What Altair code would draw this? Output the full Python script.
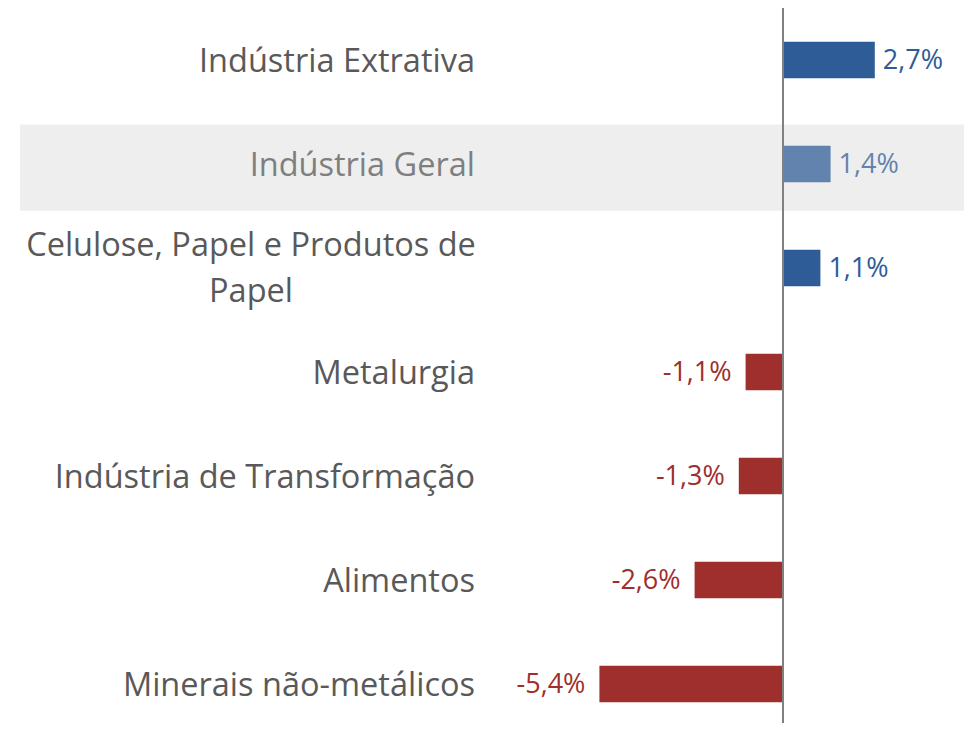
import altair as alt
import pandas as pd

categories = [
    "Indústria Extrativa",
    "Indústria Geral",
    "Celulose, Papel e Produtos de Papel",
    "Metalurgia",
    "Indústria de Transformação",
    "Alimentos",
    "Minerais não-metálicos",
]
values = [2.7, 1.4, 1.1, -1.1, -1.3, -2.6, -5.4]
highlight = "Indústria Geral"
wrapped = {"Celulose, Papel e Produtos de Papel": "Celulose, Papel e Produtos de\nPapel"}

df = pd.DataFrame({"cat": categories, "value": values, "idx": list(range(len(categories)))})
df["label"] = [f"{v:.1f}".replace(".", ",") + "%" for v in values]
df["group"] = ["geral" if c == highlight else ("pos" if v >= 0 else "neg") for c, v in zip(categories, values)]
df["wrap"] = [c in wrapped for c in categories]
df["disp"] = [wrapped.get(c, c) for c in categories]

FONT = "Open Sans"
W, H = 956, 715
xscale = alt.Scale(domain=[-775 / 34, 181 / 34], nice=False, zero=False)
yscale = alt.Scale(domain=[-0.5, 6.375], nice=False, zero=False, reverse=True)
bar_colors = alt.Scale(domain=["pos", "geral", "neg"], range=["#2E5C97", "#6283AD", "#9E2F2D"])
lab_colors = alt.Scale(domain=["pos", "geral", "neg"], range=["#595959", "#7F7F7F", "#595959"])

base = alt.Chart(df)

band = base.transform_filter(alt.datum.cat == highlight).transform_calculate(
    y0="datum.idx - 0.38", y1="datum.idx + 0.45"
).mark_rect(color="#EEEEEE").encode(
    x=alt.value(12), x2=alt.value(W),
    y=alt.Y("y0:Q", scale=yscale, axis=None), y2="y1:Q",
)

bars = base.transform_calculate(
    y0="datum.idx - 0.175", y1="datum.idx + 0.175", zero="0"
).mark_rect().encode(
    x=alt.X("value:Q", scale=xscale, axis=None), x2="zero:Q",
    y=alt.Y("y0:Q", scale=yscale, axis=None), y2="y1:Q",
    color=alt.Color("group:N", scale=bar_colors, legend=None),
)

zero_line = base.transform_filter(alt.datum.idx == 0).transform_calculate(zero="0").mark_rule(
    color="#808080", strokeWidth=2
).encode(
    x=alt.X("zero:Q", scale=xscale, axis=None),
    y=alt.value(0), y2=alt.value(H),
)

pos_lab = base.transform_filter(alt.datum.value >= 0).mark_text(
    align="left", baseline="middle", dx=8, dy=1, fontSize=27, font=FONT
).encode(
    x=alt.X("value:Q", scale=xscale, axis=None),
    y=alt.Y("idx:Q", scale=yscale, axis=None),
    text="label:N",
    color=alt.Color("group:N", scale=bar_colors, legend=None),
)

neg_lab = base.transform_filter(alt.datum.value < 0).mark_text(
    align="right", baseline="middle", dx=-14, dy=1, fontSize=27, font=FONT
).encode(
    x=alt.X("value:Q", scale=xscale, axis=None),
    y=alt.Y("idx:Q", scale=yscale, axis=None),
    text="label:N",
    color=alt.Color("group:N", scale=bar_colors, legend=None),
)

cat_lab = base.transform_filter(alt.datum.wrap == False).mark_text(
    align="right", baseline="middle", dy=2, fontSize=32.5, font=FONT
).encode(
    x=alt.value(467),
    y=alt.Y("idx:Q", scale=yscale, axis=None),
    text="disp:N",
    color=alt.Color("group:N", scale=lab_colors, legend=None),
)

wrap_lab = base.transform_filter(alt.datum.wrap == True).mark_text(
    align="center", baseline="middle", dy=-22, fontSize=32.5, font=FONT, lineBreak="\n", lineHeight=46
).encode(
    x=alt.value(243),
    y=alt.Y("idx:Q", scale=yscale, axis=None),
    text="disp:N",
    color=alt.Color("group:N", scale=lab_colors, legend=None),
)

chart = alt.layer(band, bars, zero_line, pos_lab, neg_lab, cat_lab, wrap_lab).properties(
    width=W, height=H, padding=0, autosize=alt.AutoSizeParams(type="none")
).configure_view(stroke=None).resolve_scale(color="independent")

chart.save("out.html", embed_options={"renderer": "svg", "actions": False})
